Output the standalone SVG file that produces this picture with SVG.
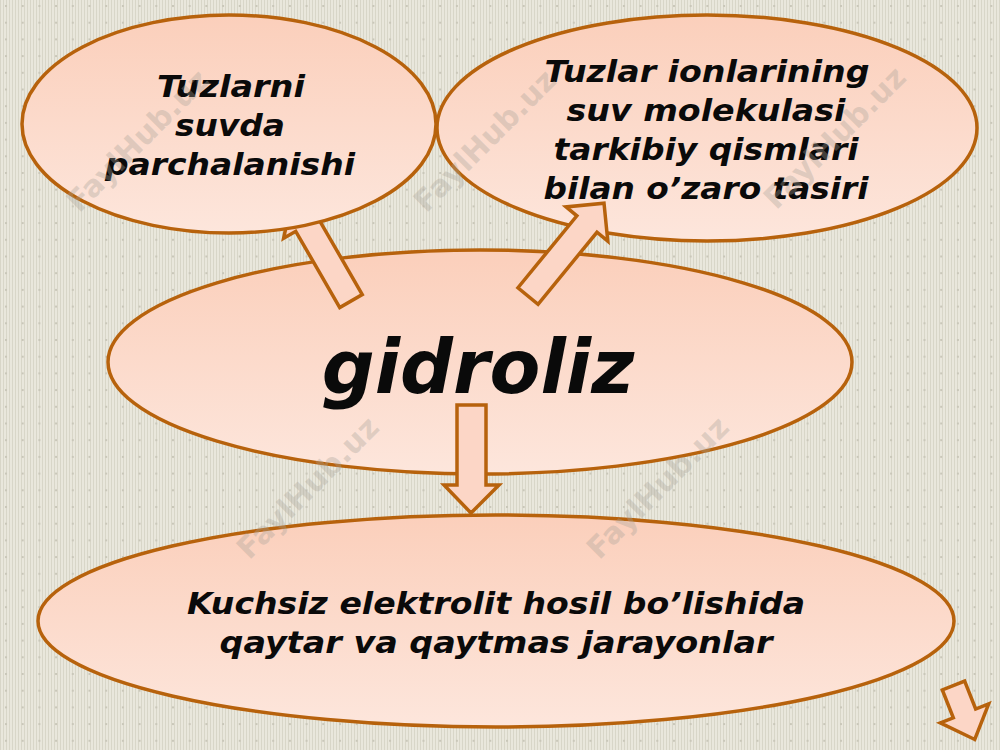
<svg xmlns="http://www.w3.org/2000/svg" width="1000" height="750" viewBox="0 0 1000 750">
<defs>
<pattern id="stripes" width="3" height="3" patternUnits="userSpaceOnUse">
<rect width="3" height="3" fill="#e9e7dc"/>
<rect x="0" width="1" height="3" fill="#d8d6c8"/>
</pattern>
<pattern id="dots" x="5" y="5" width="16.7" height="16.7" patternUnits="userSpaceOnUse">
<rect x="0" y="0" width="2" height="2" fill="#c9c7b9"/>
</pattern>
<linearGradient id="peach" x1="0" y1="0" x2="0" y2="1">
<stop offset="0" stop-color="#fbcfbb"/>
<stop offset="1" stop-color="#fde6dc"/>
</linearGradient>
<style>
.node{fill:url(#peach);stroke:#b7620c;stroke-width:3.5}
.arrow{fill:#fcd6c6;stroke:#b7620c;stroke-width:3.5;stroke-linejoin:miter}
.t{font-family:"DejaVu Sans","Verdana",sans-serif;font-weight:bold;font-style:italic;fill:#0a0a0a;text-anchor:middle}
.wm{font-family:"DejaVu Sans",sans-serif;font-weight:bold;font-size:30px;fill:#a8a298;fill-opacity:0.35;text-anchor:middle}
</style>
</defs>
<rect width="1000" height="750" fill="url(#stripes)"/>
<rect width="1000" height="750" fill="url(#dots)"/>

<g id="node-gidroliz">
<ellipse class="node" cx="480" cy="362" rx="372" ry="112"/>
<text class="t" x="478" y="393" font-size="74">gidroliz</text>
</g>

<g id="node-kuchsiz">
<ellipse class="node" cx="496" cy="621" rx="458" ry="106"/>
<text class="t" x="496" y="614" font-size="30" textLength="618" lengthAdjust="spacingAndGlyphs">Kuchsiz elektrolit hosil bo’lishida</text>
<text class="t" x="496" y="653" font-size="30" textLength="553" lengthAdjust="spacingAndGlyphs">qaytar va qaytmas jarayonlar</text>
</g>

<g id="node-ionlar">
<ellipse class="node" cx="707" cy="128" rx="270" ry="113"/>
<text class="t" x="707" y="82" font-size="31" textLength="325" lengthAdjust="spacingAndGlyphs">Tuzlar ionlarining</text>
<text class="t" x="706" y="121" font-size="31" textLength="279" lengthAdjust="spacingAndGlyphs">suv molekulasi</text>
<text class="t" x="706" y="160" font-size="31" textLength="305" lengthAdjust="spacingAndGlyphs">tarkibiy qismlari</text>
<text class="t" x="706" y="199" font-size="31" textLength="325" lengthAdjust="spacingAndGlyphs">bilan o’zaro tasiri</text>
</g>

<g id="connectors">
<path class="arrow" transform="translate(351,301) rotate(-120)" d="M0,-13 L88,-13 L88,-27 L118,0 L88,27 L88,13 L0,13 Z"/>
<path class="arrow" transform="translate(528,296) rotate(-50.7)" d="M0,-13 L93,-13 L93,-27 L120,0 L93,27 L93,13 L0,13 Z"/>
<path class="arrow" d="M457,405 L486,405 L486,485 L499,485 L471,513 L444,485 L457,485 Z"/>
<path class="arrow" transform="translate(953.5,685.5) rotate(68.5)" d="M0,-12 L30,-12 L30,-26 L58,0 L30,26 L30,12 L0,12 Z"/>
</g>

<g id="node-tuzlarni">
<ellipse class="node" cx="229" cy="124" rx="207" ry="109"/>
<text class="t" x="231" y="97" font-size="31" textLength="148" lengthAdjust="spacingAndGlyphs">Tuzlarni</text>
<text class="t" x="230" y="136" font-size="31" textLength="110" lengthAdjust="spacingAndGlyphs">suvda</text>
<text class="t" x="230" y="175" font-size="31" textLength="250" lengthAdjust="spacingAndGlyphs">parchalanishi</text>
</g>

<g id="watermarks">
<text class="wm" transform="translate(145,148) rotate(-45)">FaylHub.uz</text>
<text class="wm" transform="translate(492,148) rotate(-45)">FaylHub.uz</text>
<text class="wm" transform="translate(842,145) rotate(-45)">FaylHub.uz</text>
<text class="wm" transform="translate(315,495) rotate(-45)">FaylHub.uz</text>
<text class="wm" transform="translate(665,495) rotate(-45)">FaylHub.uz</text>
</g>
</svg>
